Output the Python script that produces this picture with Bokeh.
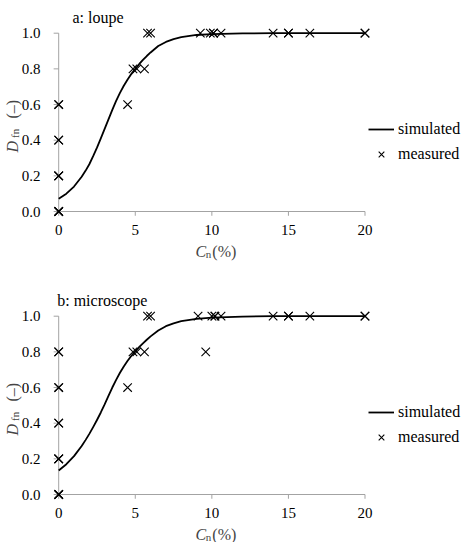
import math
from bokeh.plotting import figure
from bokeh.models import Label, Legend, LegendItem
from bokeh.core.properties import value
from bokeh.layouts import column
from bokeh.embed import file_html
from bokeh.resources import INLINE

# ---- data -------------------------------------------------------------
# simulated curves D_fn(C_n)
sim_x = [0, 0.5, 1, 1.5, 1.75, 2, 2.25, 2.5, 2.75, 3, 3.25, 3.5, 3.75, 4,
         4.25, 4.5, 4.75, 5, 5.25, 5.5, 5.75, 6, 6.5, 7, 7.5, 8, 9, 10,
         12, 14, 16, 18, 20]
sim_loupe = [0.072, 0.10, 0.14, 0.195, 0.228, 0.265, 0.31, 0.358, 0.41,
             0.463, 0.517, 0.57, 0.62, 0.665, 0.705, 0.74, 0.772, 0.80,
             0.826, 0.85, 0.872, 0.892, 0.928, 0.951, 0.967, 0.978, 0.99,
             0.995, 0.999, 1.0, 1.0, 1.0, 1.0]
sim_micro = [0.135, 0.17, 0.215, 0.272, 0.305, 0.34, 0.378, 0.418, 0.46,
             0.505, 0.553, 0.60, 0.643, 0.683, 0.718, 0.75, 0.778, 0.803,
             0.826, 0.848, 0.868, 0.887, 0.92, 0.944, 0.96, 0.972, 0.985,
             0.992, 0.998, 1.0, 1.0, 1.0, 1.0]

# measured points (repeated entries are coinciding samples)
meas_loupe_x = [0, 0, 0, 0, 0, 0, 0, 0, 0, 0,
                4.5, 4.85, 5.1, 5.6, 5.8, 6.0,
                9.25, 9.9, 10.1, 10.1, 10.6, 14.0, 15.0, 15.0, 16.4, 20.0, 20.0]
meas_loupe_y = [0, 0, 0, 0.2, 0.2, 0.2, 0.4, 0.4, 0.6, 0.6,
                0.6, 0.8, 0.8, 0.8, 1.0, 1.0,
                1.0, 1.0, 1.0, 1.0, 1.0, 1.0, 1.0, 1.0, 1.0, 1.0, 1.0]

meas_micro_x = [0, 0, 0, 0, 0, 0, 0, 0, 0, 0, 0, 0,
                4.5, 4.85, 5.1, 5.6, 5.8, 6.0,
                9.1, 9.6, 10.0, 10.2, 10.2, 10.6, 14.0, 15.0, 15.0, 16.4,
                20.0, 20.0]
meas_micro_y = [0, 0, 0, 0.2, 0.2, 0.2, 0.4, 0.4, 0.6, 0.6, 0.8, 0.8,
                0.6, 0.8, 0.8, 0.8, 1.0, 1.0,
                1.0, 0.8, 1.0, 1.0, 1.0, 1.0, 1.0, 1.0, 1.0, 1.0,
                1.0, 1.0]

x_ticks = [0, 5, 10, 15, 20]
x_tick_labels = ["0", "5", "10", "15", "20"]
y_ticks = [0.0, 0.2, 0.4, 0.6, 0.8, 1.0]
y_tick_labels = ["0.0", "0.2", "0.4", "0.6", "0.8", "1.0"]

FONT = "'Liberation Serif', 'Times New Roman', 'DejaVu Serif', serif"
TICK_FS = "15px"
FS = "16px"
SUB_FS = "11px"
AXIS_GREY = "#a3a3a3"

# screen scale: 15.315 px per % on x, 178.3 px per unit on y
X_START, X_END = -3.800, 26.758
Y_END = 1.1834
PX_PER_Y = 178.3


def panel(title, title_dx, sim_y, mx, my, height):
    # the frame fills the whole canvas so that every text can sit inside it
    y_start = Y_END - height / PX_PER_Y
    p = figure(width=468, height=height, output_backend="svg",
               toolbar_location=None, x_axis_location=None,
               y_axis_location=None,
               x_range=(X_START, X_END), y_range=(y_start, Y_END),
               min_border=0)
    p.outline_line_color = None
    p.xgrid.visible = False
    p.ygrid.visible = False
    p.background_fill_color = "white"
    p.border_fill_color = "white"

    # axis lines
    p.segment(x0=[x_ticks[0], x_ticks[0]], y0=[y_ticks[0], y_ticks[0]],
              x1=[x_ticks[-1], x_ticks[0]], y1=[y_ticks[0], y_ticks[-1]],
              line_color=AXIS_GREY, line_width=1)
    # outward tick marks
    p.segment(x0=x_ticks, y0=[0] * len(x_ticks), x1=x_ticks,
              y1=[-0.024] * len(x_ticks), line_color=AXIS_GREY, line_width=1)
    p.segment(x0=[0] * len(y_ticks), y0=y_ticks, x1=[-0.33] * len(y_ticks),
              y1=y_ticks, line_color=AXIS_GREY, line_width=1)

    # tick labels
    p.text(x=x_ticks, y=[0] * len(x_ticks), text=x_tick_labels,
           y_offset=18, text_align="center", text_baseline="middle",
           text_font=value(FONT), text_font_size=value(TICK_FS),
           text_color="black")
    p.text(x=[0] * len(y_ticks), y=y_ticks, text=y_tick_labels,
           x_offset=-18.2, text_align="right", text_baseline="middle",
           text_font=value(FONT), text_font_size=value(TICK_FS),
           text_color="black")

    line_r = p.line(sim_x, sim_y, line_color="black", line_width=1.8,
                    line_join="round")
    pts_r = p.scatter(mx, my, marker="x", size=12, line_color="black",
                      line_width=1.1)

    legend = Legend(items=[LegendItem(label="simulated", renderers=[line_r]),
                           LegendItem(label="measured", renderers=[pts_r])],
                    location=(368, height - 164), padding=0, margin=0,
                    spacing=5, glyph_width=26, glyph_height=20,
                    label_height=20, label_standoff=4,
                    border_line_color=None, background_fill_alpha=0,
                    label_text_font=FONT, label_text_font_size=FS,
                    label_text_color="black")
    p.add_layout(legend)

    # panel title
    p.add_layout(Label(x=0, y=1, x_offset=title_dx, y_offset=15.7,
                       text=title, text_font=FONT, text_font_size=FS,
                       text_baseline="alphabetic", text_color="black"))

    # x axis title: C_n (%)
    p.add_layout(Label(x=10, y=0, x_offset=-16.4, y_offset=-40, text="C",
                       text_font=FONT, text_font_style="italic",
                       text_font_size=FS, text_baseline="alphabetic"))
    p.add_layout(Label(x=10, y=0, x_offset=-6, y_offset=-42.5, text="n",
                       text_font=FONT, text_font_size=SUB_FS,
                       text_baseline="alphabetic"))
    p.add_layout(Label(x=10, y=0, x_offset=0.5, y_offset=-40, text="(%)",
                       text_font=FONT, text_font_size=FS,
                       text_baseline="alphabetic"))

    # y axis title: D_fn (–), rotated
    rot = math.pi / 2
    p.add_layout(Label(x=0, y=0, x_offset=-46.2, y_offset=59, text="D",
                       angle=rot, text_font=FONT, text_font_style="italic",
                       text_font_size=FS, text_baseline="alphabetic"))
    p.add_layout(Label(x=0, y=0, x_offset=-43.7, y_offset=73.5, text="fn",
                       angle=rot, text_font=FONT, text_font_size=SUB_FS,
                       text_baseline="alphabetic"))
    p.add_layout(Label(x=0, y=0, x_offset=-46.2, y_offset=93, text="(\u2013)",
                       angle=rot, text_font=FONT, text_font_size=FS,
                       text_baseline="alphabetic"))
    return p


pa = panel("a: loupe", 13.8, sim_loupe, meas_loupe_x, meas_loupe_y, 283)
pb = panel("b: microscope", -1.5, sim_micro, meas_micro_x, meas_micro_y, 259)

layout = column(pa, pb, spacing=0)
open("out.html", "w").write(file_html(layout, INLINE))
